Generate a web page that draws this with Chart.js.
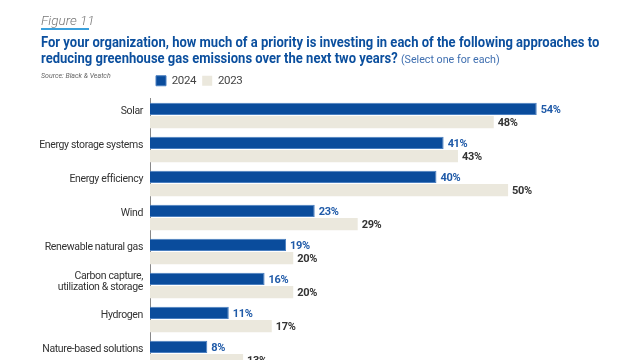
<!DOCTYPE html>
<html>
<head>
<meta charset="utf-8">
<script src="https://cdn.jsdelivr.net/npm/chart.js@4.4.1/dist/chart.umd.min.js"></script>
<style>
  html, body { margin: 0; padding: 0; width: 640px; height: 360px; overflow: hidden; background: #fff; }
  body { position: relative; font-family: 'Roboto', sans-serif; }
  #fig { position: absolute; left: 41px; top: 12px; font-size: 13.5px; font-style: italic; color: #777; font-weight: 300; }
  #fig-line { position: absolute; left: 41px; top: 28px; width: 48px; height: 1.5px; background: #3aa0dc; }
  #title { position: absolute; left: 41px; top: 34px; font-size: 14px; line-height: 16px; font-weight: bold; color: #0b4f9e; white-space: nowrap; transform: scaleX(0.93); transform-origin: left top; }
  #title span { font-weight: normal; font-size: 11.5px; color: #3f6fb0; }
  #source { position: absolute; left: 41px; top: 72px; font-size: 7px; font-style: italic; color: #666; }
  #wrap { position: absolute; left: 0; top: 0; width: 640px; height: 383px; }
</style>
</head>
<body>
<div id="wrap"><canvas id="myChart"></canvas></div>
<div id="fig">Figure 11</div>
<div id="fig-line"></div>
<div id="title">For your organization, how much of a priority is investing in each of the following approaches to<br>reducing greenhouse gas emissions over the next two years? <span>(Select one for each)</span></div>
<div id="source">Source: Black &amp; Veatch</div>
<script>
'use strict';
const categories = ['Solar', 'Energy storage systems', 'Energy efficiency', 'Wind', 'Renewable natural gas', ['Carbon capture,', 'utilization & storage'], 'Hydrogen', 'Nature-based solutions'];
const values2024 = [54, 41, 40, 23, 19, 16, 11, 8];
const values2023 = [48, 43, 50, 29, 20, 20, 17, 13];
const seriesNames = ['2024', '2023'];

const FONT = "'Roboto', sans-serif";

// the original uses a condensed face, squeeze the canvas text a bit
const narrowText = {
  id: 'narrowText',
  beforeDraw(chart) { chart.ctx.letterSpacing = '-0.35px'; },
  afterDraw(chart) { chart.ctx.letterSpacing = '0px'; }
};

// percentage labels at the end of each bar
const barLabels = {
  id: 'barLabels',
  afterDatasetsDraw(chart) {
    const ctx = chart.ctx;
    ctx.save();
    ctx.font = 'bold 11px ' + FONT;
    ctx.textBaseline = 'middle';
    ctx.textAlign = 'left';
    chart.data.datasets.forEach(function(ds, i) {
      const meta = chart.getDatasetMeta(i);
      ctx.fillStyle = i === 0 ? '#1f5aa8' : '#333333';
      meta.data.forEach(function(bar, j) {
        ctx.fillText(ds.data[j] + '%', bar.x + 4, bar.y + 1);
      });
    });
    ctx.restore();
  }
};

const ctx = document.getElementById('myChart').getContext('2d');
const chart = new Chart(ctx, {
  type: 'bar',
  data: {
    labels: categories,
    datasets: [{
      label: seriesNames[0],
      data: values2024,
      backgroundColor: '#0a4c9c',
      borderColor: '#4a7fc0',
      borderWidth: 1,
      borderSkipped: 'start',
      categoryPercentage: 0.78,
      barPercentage: 0.94
    }, {
      label: seriesNames[1],
      data: values2023,
      backgroundColor: '#ebe8dd',
      borderWidth: 0,
      categoryPercentage: 0.78,
      barPercentage: 0.94
    }]
  },
  options: {
    indexAxis: 'y',
    responsive: true,
    maintainAspectRatio: false,
    animation: false,
    layout: { padding: { top: 69, right: 3, left: 0, bottom: 0 } },
    plugins: {
      tooltip: { enabled: false },
      legend: {
        position: 'top',
        align: 'start',
        fullSize: false,
        labels: {
          boxWidth: 10,
          boxHeight: 10,
          padding: 6,
          color: '#444',
          font: { family: FONT, size: 11.5 }
        }
      }
    },
    scales: {
      x: {
        position: 'top',
        min: 0,
        max: 68,
        grid: { display: false, drawTicks: false },
        border: { display: false },
        ticks: { display: false },
        afterFit(scale) { scale.height = 2; }
      },
      y: {
        grid: { display: false, drawTicks: false },
        border: { display: true, color: '#888', width: 1 },
        afterFit(scale) { scale.width = 150; },
        ticks: {
          autoSkip: false,
          color: '#333',
          padding: 7,
          labelOffset: -4,
          font: { family: FONT, size: 10.5, lineHeight: 1.05 }
        }
      }
    }
  },
  plugins: [narrowText, barLabels]
});
</script>
</body>
</html>
